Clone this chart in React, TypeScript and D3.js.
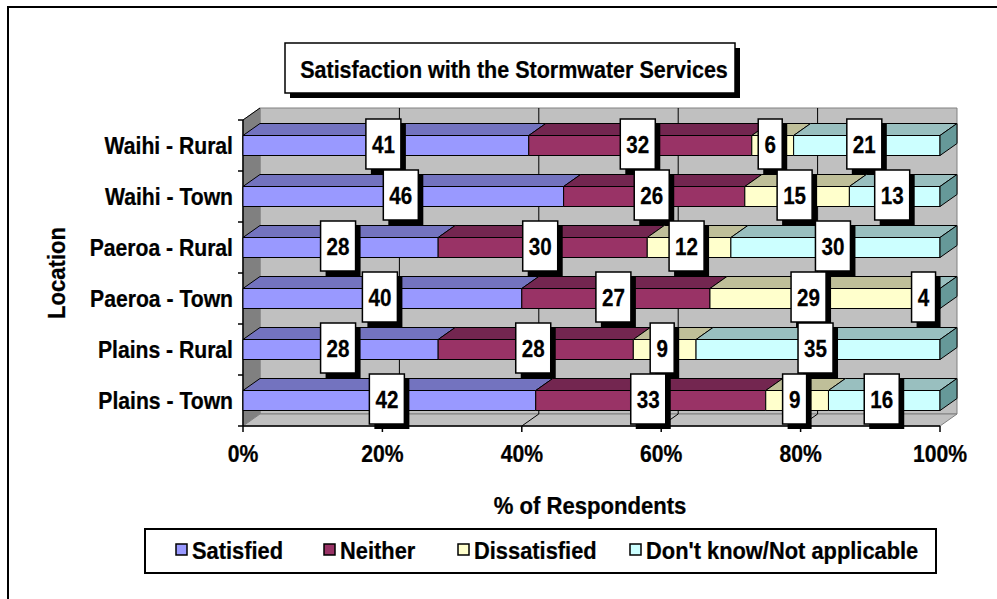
import React from "react";
import * as d3 from "d3";

const categories = ["Waihi - Rural", "Waihi - Town", "Paeroa - Rural", "Paeroa - Town", "Plains - Rural", "Plains - Town"];
const seriesNames = ["Satisfied", "Neither", "Dissatisfied", "Don't know/Not applicable"];
const satisfied = [41, 46, 28, 40, 28, 42];
const neither = [32, 26, 30, 27, 28, 33];
const dissatisfied = [6, 15, 12, 29, 9, 9];
const dontKnow = [21, 13, 30, 4, 35, 16];
const xTicks = [0, 20, 40, 60, 80, 100];
const titleText = "Satisfaction with the Stormwater Services";
const xTitle = "% of Respondents";
const yTitle = "Location";

const frontColors = ["#9999FF", "#993366", "#FFFFCC", "#CCFFFF"];
const topColors = ["#7373BF", "#732650", "#BFBF99", "#99BFBF"];
const sideColors = ["#5C5C99", "#5C1F3D", "#99997A", "#669999"];

const FONT = "'Liberation Sans', Arial, Helvetica, sans-serif";
const SX = 0.9;

function T(props: any) {
  const { x, y, anchor = "middle", size = 23.5, rotate = 0, children, sx = SX } = props;
  return (
    <text
      transform={`translate(${x},${y}) rotate(${rotate}) scale(${sx},1)`}
      textAnchor={anchor}
      fontFamily={FONT}
      fontWeight="bold"
      fontSize={size}
      fill="#000"
      stroke="#000"
      strokeWidth={0.25}
    >
      {children}
    </text>
  );
}

export default function App() {
  const W = 997, H = 599;
  const DX = 17, DY = 12;
  const x = d3.scaleLinear().domain([0, 100]).range([243, 940]);
  const y = d3.scaleBand().domain(categories).range([120, 426]);
  const barH = 20;

  const rows = categories.map((c, i) => ({
    cat: c,
    vals: [satisfied[i], neither[i], dissatisfied[i], dontKnow[i]],
  }));
  const stack = d3.stack<any>().keys([0, 1, 2, 3] as any).value((d: any, k: any) => d.vals[k]);
  const stacked = stack(rows as any);

  const x0 = x(0), x1 = x(100), yTop = y.range()[0], yBot = y.range()[1];
  const pts = (arr: number[][]) => arr.map((p) => p.join(",")).join(" ");

  const bars: any[] = [];
  const labels: any[] = [];
  rows.forEach((r, i) => {
    const cy = (y(r.cat) as number) + y.bandwidth() / 2;
    const t = cy - barH / 2, b = cy + barH / 2;
    stacked.forEach((s: any, k: number) => {
      const a = x(s[i][0]), e = x(s[i][1]);
      if (e - a <= 0) return;
      bars.push(
        <g key={`b${i}-${k}`} stroke="#000" strokeWidth={1} strokeLinejoin="round">
          <polygon points={pts([[a, t], [e, t], [e + DX, t - DY], [a + DX, t - DY]])} fill={topColors[k]} />
          <rect x={a} y={t} width={e - a} height={barH} fill={frontColors[k]} />
          {k === stacked.length - 1 || s[i][1] >= 100 ? (
            <polygon points={pts([[e, t], [e + DX, t - DY], [e + DX, b - DY], [e, b]])} fill={sideColors[k]} />
          ) : null}
        </g>
      );
      const v = r.vals[k];
      const txt = String(v);
      const bw = txt.length > 1 ? 35 : 24;
      const bh = 50;
      const cx = (a + e) / 2 - 2.5;
      const by = cy - 1.5 - bh / 2;
      labels.push(
        <g key={`l${i}-${k}`}>
          <rect x={cx - bw / 2 + 5} y={by + 5} width={bw} height={bh} fill="#000" />
          <rect x={cx - bw / 2} y={by} width={bw} height={bh} fill="#fff" stroke="#000" strokeWidth={1.5} />
          <T x={cx} y={cy + 7} size={24} sx={0.86}>{txt}</T>
        </g>
      );
    });
  });

  const legendItems = [
    { tx: 192, sx: 176 },
    { tx: 340, sx: 324 },
    { tx: 474, sx: 458 },
    { tx: 646, sx: 630 },
  ];

  return (
    <svg width={W} height={H} style={{ position: "absolute", left: 0, top: 0, background: "#fff" }}>
      <rect x={0} y={0} width={W} height={H} fill="#fff" />
      <rect x={8} y={7} width={1000} height={620} fill="#fff" stroke="#000" strokeWidth={2} />

      {/* walls */}
      <polygon points={pts([[x0 + DX, yTop - DY], [x1 + DX, yTop - DY], [x1 + DX, yBot - DY], [x0 + DX, yBot - DY]])} fill="#C0C0C0" stroke="#808080" strokeWidth={1} />
      <polygon points={pts([[x0, yTop], [x0 + DX, yTop - DY], [x0 + DX, yBot - DY], [x0, yBot]])} fill="#808080" stroke="#808080" strokeWidth={1} />
      <polygon points={pts([[x0, yBot], [x1, yBot], [x1 + DX, yBot - DY], [x0 + DX, yBot - DY]])} fill="#C0C0C0" stroke="#808080" strokeWidth={1} />

      {/* gridlines */}
      {xTicks.map((v) => (
        <g key={`g${v}`} stroke="#000" strokeWidth={1}>
          {v > 0 && v < 100 ? <line x1={x(v) + DX} y1={yTop - DY} x2={x(v) + DX} y2={yBot - DY} /> : null}
          {v > 0 && v < 100 ? <line x1={x(v)} y1={yBot} x2={x(v) + DX} y2={yBot - DY} /> : null}
        </g>
      ))}

      {/* axes */}
      <line x1={x0} y1={yTop} x2={x0} y2={yBot} stroke="#000" strokeWidth={1.5} />
      <line x1={x0} y1={yTop} x2={x0 + DX} y2={yTop - DY} stroke="#000" strokeWidth={1} />
      <line x1={x0} y1={yBot} x2={x1} y2={yBot} stroke="#000" strokeWidth={1.5} />
      {d3.range(categories.length + 1).map((k) => {
        const yy = yTop + k * y.step();
        return <line key={`yt${k}`} x1={x0 - 5} y1={yy} x2={x0} y2={yy} stroke="#000" strokeWidth={1.5} />;
      })}
      {xTicks.map((v) => (
        <g key={`xt${v}`}>
          <line x1={x(v)} y1={yBot} x2={x(v)} y2={yBot + 6} stroke="#000" strokeWidth={1.5} />
          <T x={x(v)} y={462}>{`${v}%`}</T>
        </g>
      ))}

      {bars}

      {categories.map((c) => (
        <T key={`c${c}`} x={233} y={(y(c) as number) + y.bandwidth() / 2 + 8.5} anchor="end">{c}</T>
      ))}

      {labels}

      {/* titles */}
      <rect x={290} y={48} width={450} height={50} fill="#000" />
      <rect x={285} y={43} width={450} height={50} fill="#fff" stroke="#000" strokeWidth={1.5} />
      <T x={514} y={78} sx={0.915}>{titleText}</T>
      <T x={590} y={514} sx={0.94}>{xTitle}</T>
      <T x={65} y={273} rotate={-90} sx={0.94}>{yTitle}</T>

      {/* legend */}
      <rect x={145} y={529} width={791} height={44} fill="#fff" stroke="#000" strokeWidth={2} />
      {seriesNames.map((n, k) => (
        <g key={`lg${k}`}>
          <rect x={legendItems[k].sx} y={544} width={11} height={11} fill={frontColors[k]} stroke="#000" strokeWidth={1.5} />
          <T x={legendItems[k].tx} y={559} anchor="start" sx={0.93}>{n}</T>
        </g>
      ))}
    </svg>
  );
}
